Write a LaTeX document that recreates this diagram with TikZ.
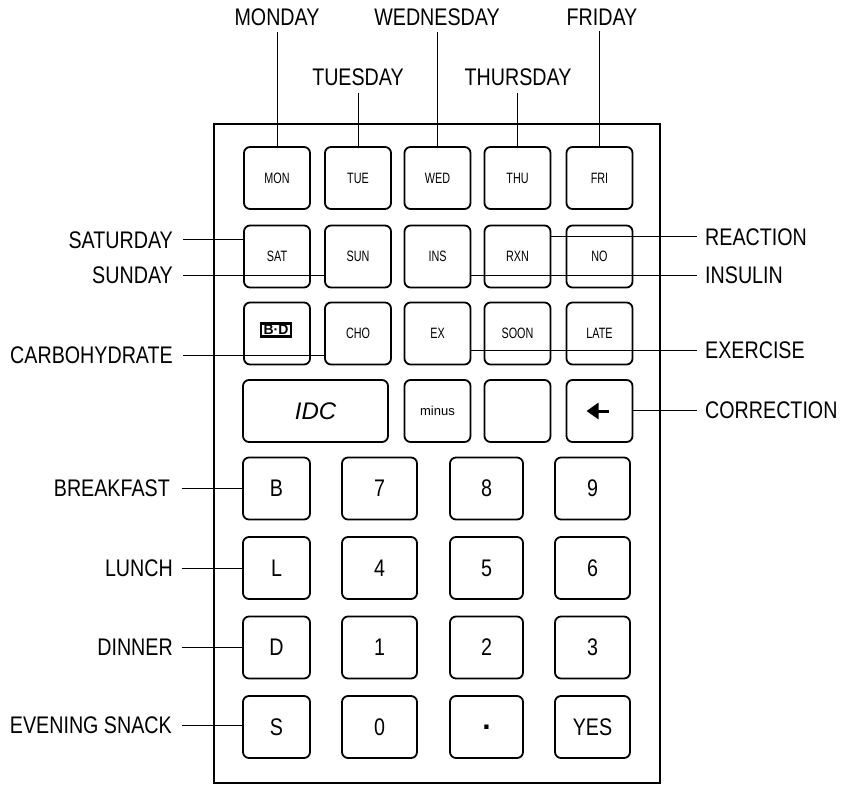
\documentclass[tikz,border=0pt]{standalone}
\usepackage{fontspec}
\setmainfont{Liberation Sans}
\newfontfamily\lblfont[FakeStretch=0.82]{Liberation Sans}
\newfontfamily\keyfont[FakeStretch=0.72]{Liberation Sans}
\usetikzlibrary{arrows.meta}
\begin{document}
\begin{tikzpicture}[x=1pt,y=-1pt,
 lbl/.style={inner sep=0pt, font=\lblfont\fontsize{24}{24}\selectfont},
 key/.style={draw, line width=1.8pt, rounded corners=6pt, minimum width=66pt, minimum height=62pt, inner sep=0pt},
 numkey/.style={key, minimum width=75pt, font=\lblfont\fontsize{24}{24}\selectfont},
 letkey/.style={key, minimum width=67pt, font=\lblfont\fontsize{24}{24}\selectfont},
 smallkey/.style={key, font=\keyfont\fontsize{15}{15}\selectfont},
 lead/.style={line width=1pt},
]
\useasboundingbox (0,0) rectangle (853,786);
% frame
\draw[line width=1.8pt] (214,124) rectangle (660,783);

% row 1
\node[smallkey] (mon) at (277,178) {MON};
\node[smallkey] (tue) at (358,178) {TUE};
\node[smallkey] (wed) at (437.5,178) {WED};
\node[smallkey] (thu) at (517.5,178) {THU};
\node[smallkey] (fri) at (599.5,178) {FRI};
% row 2
\node[smallkey] (sat) at (277,256.5) {SAT};
\node[smallkey] (sun) at (358,256.5) {SUN};
\node[smallkey] (ins) at (437.5,256.5) {INS};
\node[smallkey] (rxn) at (517.5,256.5) {RXN};
\node[smallkey] (no) at (599.5,256.5) {NO};
% row 3
\node[smallkey] (bd) at (277,333.5) {};
\node[draw, line width=2.4pt, inner xsep=2.5pt, inner ysep=1.5pt, font=\bfseries\fontsize{14}{14}\selectfont] (bdtxt) at (276,330) {B·D};
\node[smallkey] (cho) at (358,333.5) {CHO};
\node[smallkey] (ex) at (437.5,333.5) {EX};
\node[smallkey] (soon) at (517.5,333.5) {SOON};
\node[smallkey] (late) at (599.5,333.5) {LATE};
% row 4
\node[key, minimum width=145pt, font=\itshape\fontsize{24}{24}\selectfont] (idc) at (315.5,411) {IDC};
\node[key, font=\fontsize{13}{13}\selectfont] (minus) at (437.5,411) {minus};
\node[key] (blank) at (517.5,411) {};
\node[key] (back) at (599.5,411) {};
\draw[line width=3pt, -{Triangle[length=12pt,width=16pt]}] ([xshift=9pt]back.center) -- ([xshift=-13pt]back.center);
% rows 5-8
\node[letkey] (b) at (276.5,488.5) {B};
\node[numkey] (k7) at (379.5,488.5) {7};
\node[numkey, minimum width=73pt] (k8) at (486.5,488.5) {8};
\node[numkey] (k9) at (592.5,488.5) {9};
\node[letkey] (l) at (276.5,568) {L};
\node[numkey] (k4) at (379.5,568) {4};
\node[numkey, minimum width=73pt] (k5) at (486.5,568) {5};
\node[numkey] (k6) at (592.5,568) {6};
\node[letkey] (d) at (276.5,647.5) {D};
\node[numkey] (k1) at (379.5,647.5) {1};
\node[numkey, minimum width=73pt] (k2) at (486.5,647.5) {2};
\node[numkey] (k3) at (592.5,647.5) {3};
\node[letkey] (s) at (276.5,727) {S};
\node[numkey] (k0) at (379.5,727) {0};
\node[numkey, minimum width=73pt, font=\bfseries\fontsize{30}{30}\selectfont] (kdot) at (486.5,727) {.};
\node[numkey] (yes) at (592.5,727) {YES};

% top labels
\node[lbl] (monday) at (277,17) {MONDAY};
\node[lbl] (wednesday) at (437,17) {WEDNESDAY};
\node[lbl] (friday) at (602,17) {FRIDAY};
\node[lbl] (tuesday) at (358,77) {TUESDAY};
\node[lbl] (thursday) at (518,77) {THURSDAY};
% left labels
\node[lbl, anchor=east] (saturday) at (173,240) {SATURDAY};
\node[lbl, anchor=east] (sunday) at (173,275) {SUNDAY};
\node[lbl, anchor=east] (carbo) at (173,355) {CARBOHYDRATE};
\node[lbl, anchor=east] (breakfast) at (170,488) {BREAKFAST};
\node[lbl, anchor=east] (lunch) at (173,568) {LUNCH};
\node[lbl, anchor=east] (dinner) at (173,647) {DINNER};
\node[lbl, anchor=east] (snack) at (172,725) {EVENING SNACK};
% right labels
\node[lbl, anchor=west] (reaction) at (705,237) {REACTION};
\node[lbl, anchor=west] (insulin) at (705,275) {INSULIN};
\node[lbl, anchor=west] (exercise) at (705,350) {EXERCISE};
\node[lbl, anchor=west] (correction) at (705,410) {CORRECTION};

% leader lines: top
\draw[lead] (mon.north) -- ([yshift=-6pt]mon.north |- monday.south);
\draw[lead] (tue.north) -- ([yshift=-7pt]tue.north |- tuesday.south);
\draw[lead] (wed.north) -- ([yshift=-6pt]wed.north |- wednesday.south);
\draw[lead] (thu.north) -- ([yshift=-7pt]thu.north |- thursday.south);
\draw[lead] (fri.north) -- ([yshift=-6pt]fri.north |- friday.south);
% left
\draw[lead] ([xshift=10pt]saturday.east) -- (saturday -| sat.west);
\draw[lead] ([xshift=10pt]sunday.east) -- (sunday -| sun.west);
\draw[lead] ([xshift=10pt]carbo.east) -- (carbo -| cho.west);
\draw[lead] ([xshift=12pt]breakfast.east) -- (breakfast -| b.west);
\draw[lead] ([xshift=9pt]lunch.east) -- (lunch -| l.west);
\draw[lead] ([xshift=9pt]dinner.east) -- (dinner -| d.west);
\draw[lead] ([xshift=10pt]snack.east) -- (snack -| s.west);
% right
\draw[lead] (reaction -| rxn.east) -- ([xshift=-8pt]reaction.west);
\draw[lead] (insulin -| ins.east) -- ([xshift=-8pt]insulin.west);
\draw[lead] (exercise -| ex.east) -- ([xshift=-8pt]exercise.west);
\draw[lead] (correction -| back.east) -- ([xshift=-8pt]correction.west);
\end{tikzpicture}
\end{document}
